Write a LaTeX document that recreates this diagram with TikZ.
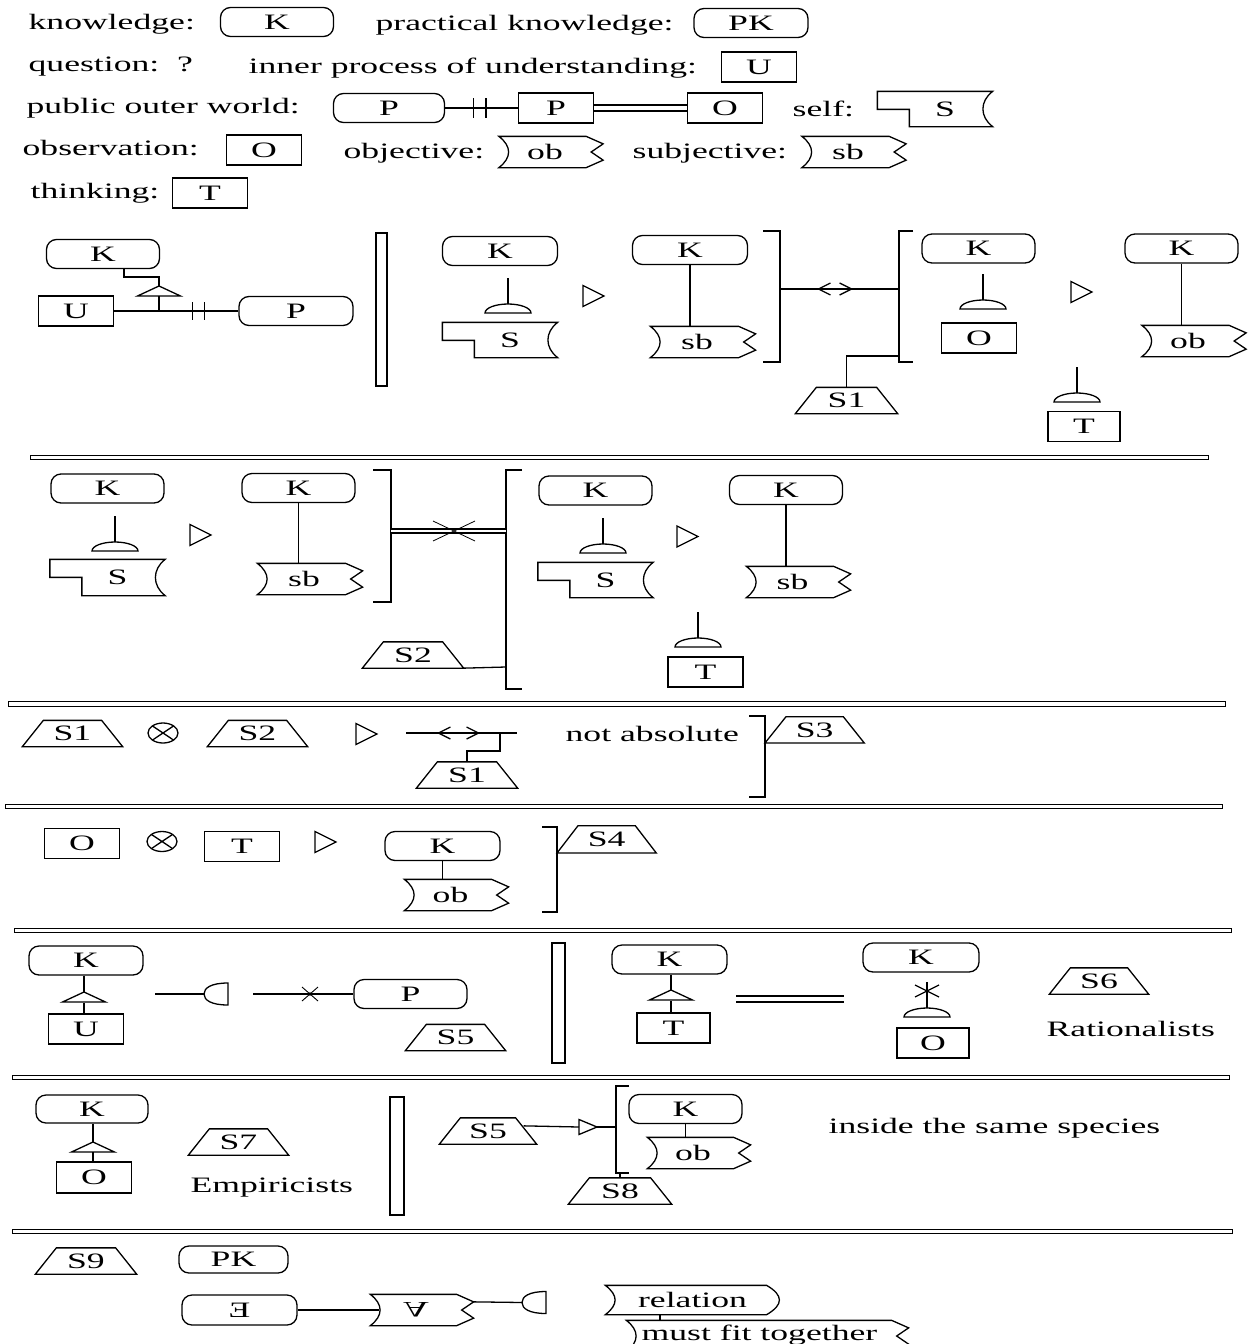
\documentclass[tikz,border=0pt]{standalone}
\usepackage{fontspec}
\setmainfont{Liberation Serif}[FakeStretch=1.62]
\usetikzlibrary{calc,arrows.meta}

% outlines drawn round plain nodes
\newcommand{\flagframe}[1]{\draw (#1.north west) .. controls +(13,10) and +(13,-10) .. (#1.south west) -- ($(#1.south east)+(-17,0)$) -- ($(#1.south east)+(0,-7.5)$) -- ($(#1.east)+(-12,0)$) -- ($(#1.north east)+(0,7.5)$) -- ($(#1.north east)+(-17,0)$) -- cycle;}
\newcommand{\selfframe}[1]{\draw (#1.north west) -- (#1.north east) .. controls +(-13,10) and +(-13,-10) .. (#1.south east) -- ($(#1.south west)+(32,0)$) -- ($(#1.north west)+(32,18)$) -- ($(#1.north west)+(0,18)$) -- cycle;}
\newcommand{\trapframe}[1]{\draw (#1.south west) -- ($(#1.north west)+(21,0)$) -- ($(#1.north east)+(-21,0)$) -- (#1.south east) -- cycle;}
\newcommand{\relframe}[1]{\draw (#1.north west) .. controls +(13,10) and +(13,-10) .. (#1.south west) -- ($(#1.south east)+(-13,0)$) .. controls +(17,-10) and +(17,10) .. ($(#1.north east)+(-13,0)$) -- cycle;}
% small symbols
\newcommand{\dome}[2]{\draw (#1,#2-35) -- (#1,#2-9); \draw (#1-23,#2) arc[start angle=180, end angle=360, x radius=23, y radius=9] -- cycle;}
\newcommand{\isa}[2]{\draw (#1,#2) -- (#1+21.5,#2+10) -- (#1-21.5,#2+10) -- cycle;}
\newcommand{\play}[2]{\draw (#1,#2-10.5) -- (#1+21,#2) -- (#1,#2+10.5) -- cycle;}
\newcommand{\halfdisk}[2]{\draw (#1,#2-11) .. controls (#1-17,#2-11) and (#1-24,#2-6) .. (#1-24,#2) .. controls (#1-24,#2+6) and (#1-17,#2+11) .. (#1,#2+11) -- cycle;}
\newcommand{\otimesmark}[2]{\draw (#1,#2) ellipse[x radius=15, y radius=10]; \draw (#1-10.6,#2-7.1) -- (#1+10.6,#2+7.1) (#1-10.6,#2+7.1) -- (#1+10.6,#2-7.1);}

\begin{document}
\begin{tikzpicture}[x=1pt, y=-1pt, line width=1.3pt,
  every node/.style={font=\fontsize{22}{25}\selectfont, inner sep=0pt},
  knode/.style={draw, rounded corners=10pt, minimum width=113pt, minimum height=29pt},
  rbox/.style={draw, minimum width=75pt, minimum height=30pt},
  flagnode/.style={minimum width=103pt, minimum height=30pt},
  selfnode/.style={minimum width=114pt, minimum height=34pt},
  stagenode/.style={minimum width=100pt, minimum height=25pt},
  lbl/.style={anchor=base west},
  sepline/.style={line width=1pt},
  midarrows/.style={{Straight Barb[length=12pt,width=12pt]}-{Straight Barb[length=12pt,width=12pt]}}]
  \useasboundingbox (0,0) rectangle (1251,1344);

  % legend
  \node[lbl] at (28,29) {knowledge:};
  \node[knode] (kLeg) at (277,22) {K};
  \node[lbl] at (375,30) {practical knowledge:};
  \node[knode, minimum width=114pt] (pkLeg) at (751,23) {PK};
  \node[lbl] at (28,71) {question:~~?};
  \node[lbl] at (248,73) {inner process of understanding:};
  \node[rbox] (uLeg) at (759,67) {U};
  \node[lbl] at (26,113) {public outer world:};
  \node[knode, minimum width=111pt] (pLeg) at (389,108) {P};
  \node[rbox] (pbLeg) at (556,108) {P};
  \node[rbox] (oLeg) at (725,108) {O};
  \draw (pLeg) -- (pbLeg);
  \path (pLeg.east) -- (pbLeg.west) coordinate[pos=0.39] (tk1) coordinate[pos=0.56] (tk2);
  \draw ([yshift=10pt]tk1) -- ([yshift=-10pt]tk1) ([yshift=10pt]tk2) -- ([yshift=-10pt]tk2);
  \draw[double, double distance=4.7pt] (pbLeg) -- (oLeg);
  \node[lbl] at (792,116) {self:};
  \node[selfnode] (sLeg) at (935,109) {\hspace*{20pt}S}; \selfframe{sLeg}
  \node[lbl] at (22,155) {observation:};
  \node[rbox] (oObs) at (264,150) {O};
  \node[lbl] at (343,158) {objective:};
  \node[flagnode] (obLeg) at (551,152) {ob\hspace*{12pt}}; \flagframe{obLeg}
  \node[lbl] at (632,158) {subjective:};
  \node[flagnode] (sbLeg) at (854,152) {sb\hspace*{12pt}}; \flagframe{sbLeg}
  \node[lbl] at (30,198) {thinking:};
  \node[rbox] (tLeg) at (210,193) {T};

  % section 1
  \node[knode] (k1) at (103,254) {K};
  \node[rbox] (u1) at (76,311) {U};
  \node[knode, minimum width=114pt] (p1) at (296,311) {P};
  \draw (u1) -- (p1);
  \coordinate (j1) at (159,311);
  \coordinate (a1) at (159,286);
  \isa{159}{286}
  \draw ([xshift=21pt]k1.south) |- ($(a1)+(0,-9)$) -- (a1);
  \draw ($(a1)+(0,10)$) -- (j1);
  \path (j1) -- (p1.west) coordinate[pos=0.425] (tk3) coordinate[pos=0.575] (tk4);
  \draw ([yshift=9pt]tk3) -- ([yshift=-9pt]tk3) ([yshift=9pt]tk4) -- ([yshift=-9pt]tk4);
  \draw (376,233) rectangle (387,386);

  \node[knode, minimum width=115pt] (k2) at (500,251) {K};
  \dome{508}{313}
  \node[selfnode] (s2) at (500,340) {\hspace*{20pt}S}; \selfframe{s2}
  \play{583}{296}
  \node[knode, minimum width=115pt] (k3) at (690,250) {K};
  \node[flagnode, minimum width=104pt] (sb3) at (703,342) {sb\hspace*{12pt}}; \flagframe{sb3}
  \draw (k3.south) -- (k3.south |- sb3.north);
  \draw (763,231) -| (780,362) -- (763,362);
  \draw (913,231) -| (899,362) -- (913,362);
  \coordinate (br1) at (780,289);
  \coordinate (bl1) at (899,289);
  \draw (br1) -- (bl1);
  \draw[midarrows] (817,289) -- (853,289);
  \coordinate (bs1) at (899,356);
  \node[stagenode, minimum width=101pt] (st1) at (846.5,400.5) {S1}; \trapframe{st1}
  \draw (bs1) -| (st1.north);

  \node[knode] (k4) at (978.5,248.5) {K};
  \dome{983}{309}
  \node[rbox] (o4) at (979,338) {O};
  \play{1071}{292}
  \node[knode] (k5) at (1181.5,248.5) {K};
  \node[flagnode] (ob5) at (1194,341) {ob\hspace*{12pt}}; \flagframe{ob5}
  \draw (k5.south) -- (k5.south |- ob5.north);
  \dome{1077}{402}
  \node[rbox, minimum width=72pt] (t5) at (1084,426.5) {T};

  \draw[sepline] (30,455) rectangle (1208,459);

  % section 2
  \node[knode] (k6) at (107.5,488.5) {K};
  \dome{115}{551}
  \node[selfnode, minimum height=35pt] (s6) at (107.5,577.5) {\hspace*{20pt}S}; \selfframe{s6}
  \play{190}{535}
  \node[knode] (k7) at (298.5,488) {K};
  \node[flagnode, minimum width=104pt] (sb7) at (310,579) {sb\hspace*{12pt}}; \flagframe{sb7}
  \draw (k7.south) -- (k7.south |- sb7.north);
  \draw (373,470) -| (391,602) -- (373,602);
  \draw (522,470) -| (506,689) -- (522,689);
  \coordinate (br2) at (391,531);
  \coordinate (bl2) at (506,531);
  \draw[double, double distance=2.7pt] (br2) -- (bl2);
  \draw[line width=0.8pt] (433,521) -- (475,541) (433,541) -- (475,521);
  \coordinate (bs2) at (506,667);
  \node[stagenode] (st2) at (413,655) {S2}; \trapframe{st2}
  \draw (bs2) -- (st2.south east);

  \node[knode] (k8) at (595.5,490.5) {K};
  \dome{603}{553}
  \node[selfnode] (s8) at (595.5,580) {\hspace*{20pt}S}; \selfframe{s8}
  \play{677}{536.5}
  \node[knode] (k9) at (786,490) {K};
  \node[flagnode] (sb9) at (798.5,582) {sb\hspace*{12pt}}; \flagframe{sb9}
  \draw (k9.south) -- (k9.south |- sb9.north);
  \dome{698}{647}
  \node[rbox] (t9) at (705.5,672) {T};

  \draw[sepline] (8,701) rectangle (1225,706);

  % section 3
  \node[stagenode, minimum width=99pt] (st10) at (72.5,733.5) {S1}; \trapframe{st10}
  \otimesmark{163}{733}
  \node[stagenode, minimum width=99pt] (st11) at (257.5,733.5) {S2}; \trapframe{st11}
  \play{356}{734}
  \coordinate (c12a) at (406,733);
  \coordinate (c12b) at (517,733);
  \coordinate (c12c) at (500,733);
  \draw (c12a) -- (c12b);
  \draw[midarrows] (437,733) -- (480,733);
  \node[stagenode] (st12) at (467,775) {S1}; \trapframe{st12}
  \draw (c12c) |- ($(st12.north)+(0,-11)$) -- (st12.north);
  \node[lbl] at (565,741) {not absolute};
  \draw (749,716) -| (765,797) -- (749,797);
  \node[stagenode, minimum width=98pt, anchor=south west] (st13) at (765,743) {S3}; \trapframe{st13}

  \draw[sepline] (5,804) rectangle (1222,808);

  % section 4
  \node[rbox] (o14) at (82,843.5) {O};
  \otimesmark{162}{841.5}
  \node[rbox] (t14) at (242,846.5) {T};
  \play{315}{842}
  \node[knode, minimum width=115pt] (k14) at (442.5,846) {K};
  \node[flagnode] (ob14) at (456.5,895) {ob\hspace*{12pt}}; \flagframe{ob14}
  \draw (k14.south) -- (k14.south |- ob14.north);
  \draw (542,827) -| (557,912) -- (542,912);
  \node[stagenode, minimum width=98pt, minimum height=26pt, anchor=south west] (st14) at (557,853) {S4}; \trapframe{st14}

  \draw[sepline] (14,928) rectangle (1231,932);

  % section 5
  \node[knode, minimum width=114pt] (k15) at (86,960.5) {K};
  \node[rbox] (u15) at (86,1029) {U};
  \coordinate (a15) at (84,992);
  \isa{84}{992}
  \draw (a15 |- k15.south) -- (a15);
  \draw ($(a15)+(0,11)$) -- (a15 |- u15.north);
  \draw (155,994) -- (204,994);
  \halfdisk{228}{994}
  \node[knode] (p15) at (410.5,994) {P};
  \coordinate (c15) at (253,994);
  \draw (c15) -- (p15);
  \draw[line width=0.9pt] (302,987) -- (318,1001) (302,1001) -- (318,987);
  \fill (310,994) circle[radius=1.8];
  \node[stagenode, minimum width=99pt] (st15) at (455.5,1037.5) {S5}; \trapframe{st15}
  \draw (552,943) rectangle (565,1063);

  \node[knode, minimum width=115pt] (k16) at (669.5,959.5) {K};
  \node[rbox, minimum width=73pt] (t16) at (673.5,1028) {T};
  \coordinate (a16) at (671,990);
  \isa{671}{990}
  \draw (a16 |- k16.south) -- (a16);
  \draw ($(a16)+(0,11)$) -- (a16 |- t16.north);
  \draw[double, double distance=4.7pt] (736,999) -- (844,999);
  \node[knode, minimum width=116pt] (k17) at (921,957.5) {K};
  \dome{927}{1017}
  \draw (915,985) -- (939,997) (915,997) -- (939,985);
  \node[rbox, minimum width=72pt] (o17) at (933,1043) {O};
  \node[stagenode, minimum width=98pt] (st17) at (1099,981) {S6}; \trapframe{st17}
  \node[lbl] at (1046,1036) {Rationalists};

  \draw[sepline] (12,1075) rectangle (1229,1079);

  % section 6
  \node[knode, minimum width=112pt, minimum height=28pt] (k18) at (92,1109) {K};
  \node[rbox, minimum height=31pt] (o18) at (94,1177.5) {O};
  \coordinate (a18) at (93,1142);
  \isa{93}{1142}
  \draw (a18 |- k18.south) -- (a18);
  \draw ($(a18)+(0,10)$) -- (a18 |- o18.north);
  \node[stagenode, minimum width=99pt] (st18) at (238.5,1142) {S7}; \trapframe{st18}
  \node[lbl] at (190,1192) {Empiricists};
  \draw (390,1097) rectangle (404,1215);
  \node[stagenode, minimum width=96pt] (st19) at (488,1131) {S5}; \trapframe{st19}
  \coordinate (tr19) at (579,1127);
  \coordinate (bk19) at (616,1127);
  \draw ($(st19.north east)+(-13,8)$) -- (tr19);
  \draw (tr19) ++(0,-7.5) -- ++(18,7.5) -- ++(-18,7.5) -- cycle;
  \draw ($(tr19)+(18,0)$) -- (bk19);
  \draw (629,1086) -| (616,1173) -- (629,1173);
  \coordinate (bb19) at (620,1173);
  \node[knode] (k19) at (685.5,1109) {K};
  \node[flagnode, minimum width=102pt] (ob19) at (699,1153) {ob\hspace*{12pt}}; \flagframe{ob19}
  \draw (k19.south) -- (k19.south |- ob19.north);
  \node[stagenode, minimum width=102pt] (st20) at (620,1191) {S8}; \trapframe{st20}
  \draw (st20.north) -- (st20.north |- bb19);
  \node[lbl] at (828,1133) {inside the same species};

  \draw[sepline] (12,1229) rectangle (1232,1233);

  % section 7
  \node[stagenode] (st21) at (86,1261) {S9}; \trapframe{st21}
  \node[knode, minimum width=109pt, minimum height=27pt] (pk21) at (233.5,1259.5) {PK};
  \node[knode, minimum width=115pt, minimum height=30pt] (e21) at (239.5,1310) {\reflectbox{E}};
  \node[flagnode, minimum width=102pt] (a21) at (422,1310) {\scalebox{1}[-1]{A}\hspace*{12pt}}; \flagframe{a21}
  \draw (e21) -- ($(a21.west)+(9,0)$);
  \coordinate (h21) at (522,1302.5);
  \draw ($(a21.north east)+(0,7.5)$) -- (h21);
  \halfdisk{546}{1302.5}
  \node[minimum width=173pt, minimum height=28pt] (rel21) at (692.5,1300) {relation}; \relframe{rel21}
  \node[flagnode, minimum width=281pt] (fit21) at (767.5,1336) {}; \flagframe{fit21}
  \node[lbl] (fitText) at (641,1340) {must fit together};
  \draw ([xshift=-32.5pt]rel21.south) -- ([xshift=-32.5pt]rel21.south |- fit21.north);
\end{tikzpicture}
\end{document}
